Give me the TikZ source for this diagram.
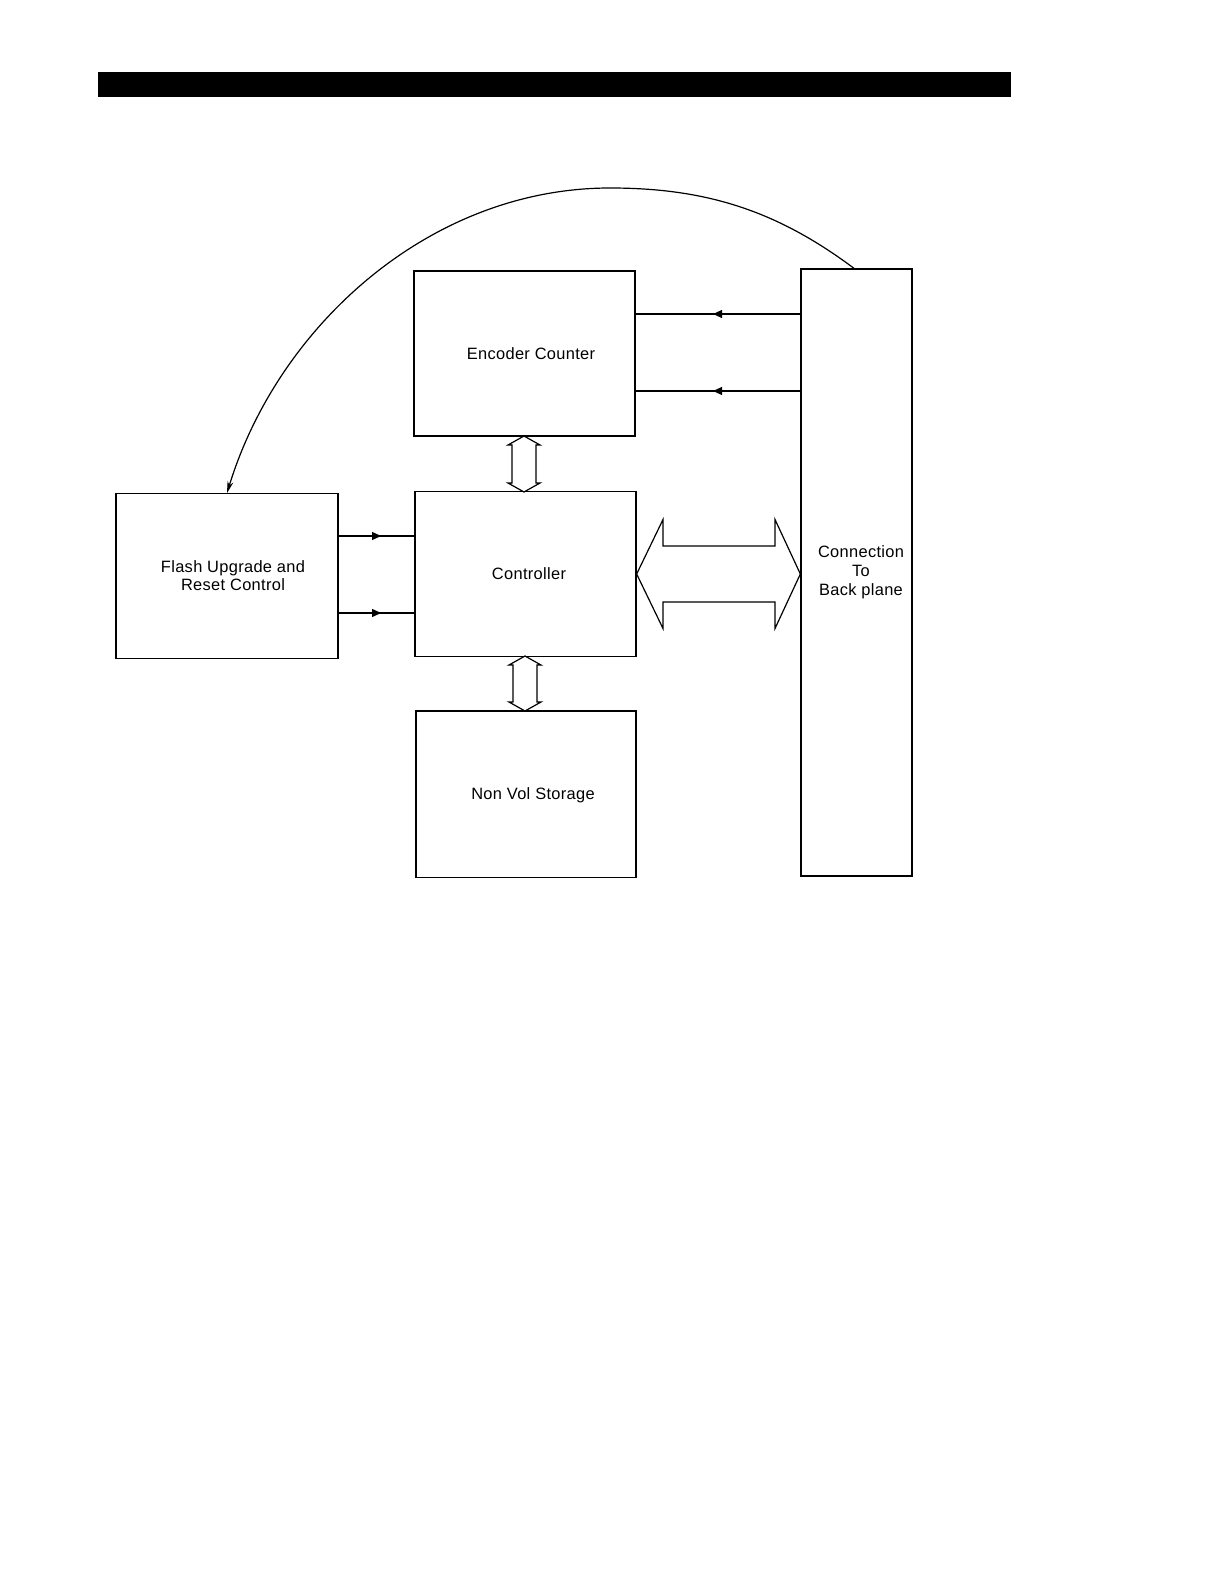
\documentclass[tikz,border=0pt]{standalone}
\usepackage{fontspec}
\setmainfont{Liberation Sans}
\usetikzlibrary{arrows.meta,decorations.markings,calc}
\tikzset{
  box/.style={draw, line width=0.65pt, rectangle, inner sep=0pt},
  lbl/.style={inner sep=0pt, align=center, font=\fontsize{8.2}{9.2}\selectfont\addfontfeature{LetterSpace=2}},
  wire/.style={line width=0.6pt},
  midarrow/.style={wire, postaction={decorate}, decoration={markings,
      mark=at position #1 with {\arrow{Triangle[length=4.5pt,width=4pt]}}}},
  fatarrow/.style={draw, line width=0.6pt, fill=white}
}
\begin{document}
\begin{tikzpicture}[x=0.5pt,y=-0.5pt]
\useasboundingbox (0,0) rectangle (1224,1584);
% top bar
\fill (98,72) rectangle (1011,97);
% boxes
\node[box, minimum width=110.5pt, minimum height=82.5pt] (enc) at (524.5,353.5) {};
\node[box, minimum width=55.5pt, minimum height=303.5pt] (conn) at (856.5,572.5) {};
\node[box, minimum width=110.5pt, minimum height=82.25pt] (ctrl) at (525.5,574) {};
\node[box, minimum width=111pt, minimum height=82.25pt] (flash) at (227,576) {};
\node[box, minimum width=110pt, minimum height=83.3pt] (nvs) at (526,794.3) {};
% labels
\node[lbl] (enct) at (531,353.5) {Encoder Counter};
\node[lbl] (ctrlt) at (529,574) {Controller};
\node[lbl] (flasht) at (233,575.6) {Flash Upgrade and\\Reset Control};
\node[lbl, font=\fontsize{8.2}{9.4}\selectfont\addfontfeature{LetterSpace=2}] (connt) at (861,572) {Connection\\To\\Back plane};
\node[lbl] (nvst) at (533,795) {Non Vol Storage};
% wires
\coordinate (y1) at (0,314);
\coordinate (y2) at (0,391);
\coordinate (y3) at (0,536);
\coordinate (y4) at (0,613);
\draw[midarrow=0.53] (conn.west |- y1) -- (enc.east |- y1);
\draw[midarrow=0.53] (conn.west |- y2) -- (enc.east |- y2);
\draw[midarrow=0.56] (flash.east |- y3) -- (ctrl.west |- y3);
\draw[midarrow=0.56] (flash.east |- y4) -- (ctrl.west |- y4);
% curve
\coordinate (cx1) at (854,0);
\coordinate (cx2) at (227,0);
\coordinate (apex) at (610,188);
\draw[wire, -{Stealth[length=6pt,width=3pt]}] (conn.north -| cx1) .. controls (776,210) and (705,188) .. (apex)
  .. controls (430,188) and (278,326) .. (flash.north -| cx2);
% small double arrows
\draw[fatarrow] (524,436) -- (540,445) -- (536,445) -- (536,483) -- (540,483) -- (524,492)
  -- (508,483) -- (512,483) -- (512,445) -- (508,445) -- cycle;
\draw[fatarrow] (525,656) -- (541,665) -- (537,665) -- (537,702) -- (541,702) -- (525,711)
  -- (509,702) -- (513,702) -- (513,665) -- (509,665) -- cycle;
% big double arrow
\draw[fatarrow] (ctrl.east) -- (663,519.5) -- (663,546) -- (775,546) -- (775,519.5) -- (conn.west |- ctrl.east)
  -- (775,628.5) -- (775,602) -- (663,602) -- (663,628.5) -- cycle;
\end{tikzpicture}
\end{document}
